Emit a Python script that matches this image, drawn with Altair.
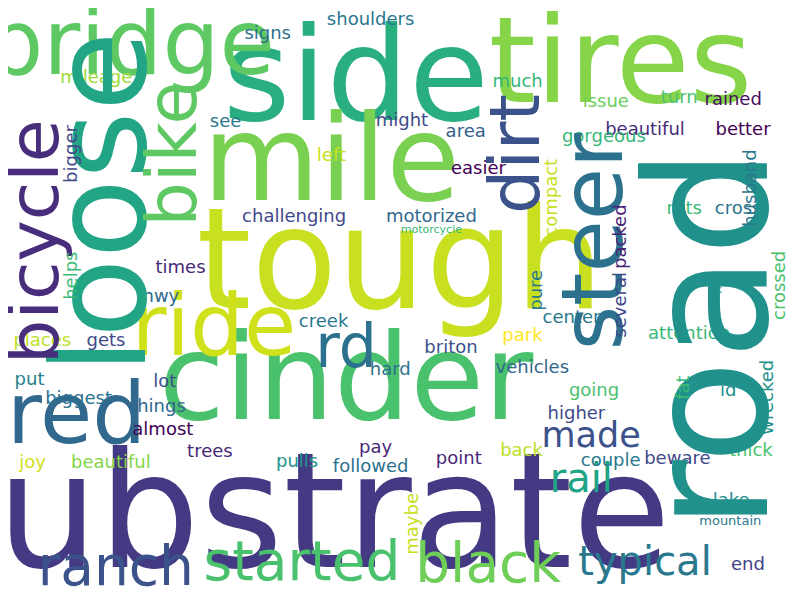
import altair as alt
import pandas as pd

# word cloud: word, centre x, centre y (pixels in an 800x600 canvas), font size, rotated?, colour
words = ["substrate", "road", "cinder", "tough", "loose", "side", "tires", "mile", "bridge",
         "bicycle", "bike", "ride", "red", "rd", "dirt", "steer", "ranch", "started", "black",
         "typical", "rail", "made", "end", "challenging", "motorized", "motorcycle", "signs",
         "shoulders", "much", "beautiful", "better", "mileage", "see", "might", "area", "issue",
         "turn", "rained", "gorgeous", "easier", "left", "bigger", "husband", "compact", "packed",
         "ruts", "cross", "crossed", "helps", "times", "hwy", "creek", "pure", "several", "center",
         "park", "attention", "ok", "places", "gets", "briton", "hard", "vehicles", "put", "lot",
         "biggest", "going", "fat", "id", "wrecked", "things", "almost", "higher", "pay", "trees",
         "pulls", "joy", "beautiful ", "followed", "point", "back", "couple", "beware", "thick",
         "lake", "maybe", "mountain"]
xs = [290, 722, 345, 400, 100, 355, 625, 330, 125, 30, 170, 210, 70, 345, 520, 600, 110, 300, 490,
      650, 585, 595, 755, 292, 432, 432, 265, 370, 520, 650, 750, 90, 222, 402, 467, 610, 685, 740,
      608, 480, 330, 65, 758, 555, 625, 690, 745, 788, 65, 176, 156, 322, 540, 625, 575, 525, 695,
      722, 35, 100, 452, 390, 535, 22, 160, 72, 598, 690, 735, 775, 153, 158, 580, 375, 206, 295,
      25, 105, 370, 460, 524, 615, 683, 758, 738, 413, 737]
ys = [525, 340, 385, 265, 200, 75, 60, 160, 40, 240, 150, 330, 420, 350, 150, 240, 575, 570, 572,
      570, 485, 440, 572, 215, 215, 228, 27, 12, 76, 125, 125, 72, 117, 116, 127, 97, 92, 95, 133,
      165, 152, 150, 185, 195, 235, 207, 207, 285, 275, 267, 297, 323, 290, 305, 318, 337, 335, 290,
      342, 342, 349, 372, 370, 382, 384, 402, 393, 390, 393, 400, 410, 434, 417, 452, 456, 466, 467,
      467, 472, 463, 455, 465, 463, 455, 507, 530, 527]
big_sizes = {"substrate": 160, "road": 170, "cinder": 120, "tough": 140, "loose": 130,
             "side": 130, "tires": 120, "mile": 120, "bridge": 90, "bicycle": 70, "bike": 70,
             "ride": 85, "red": 85, "rd": 60, "dirt": 70, "steer": 85, "ranch": 55,
             "started": 55, "black": 55, "typical": 40, "rail": 40, "made": 35,
             "motorcycle": 11, "ok": 11, "mountain": 13}
rotated = ["road", "loose", "bicycle", "bike", "dirt", "steer", "bigger", "husband", "compact",
           "packed", "crossed", "helps", "pure", "several", "fat", "wrecked", "maybe"]
colors = ["#443983", "#21918c", "#4ac16d", "#c8e020", "#21a585", "#29af7f", "#86d549", "#7ad151",
          "#5ec962", "#472d7b", "#5ec962", "#d0e11c", "#31688e", "#2c728e", "#3b528b", "#2c728e",
          "#3b528b", "#4ac16d", "#6ece58", "#2a788e", "#20a486", "#3b528b", "#414487", "#3e4a89",
          "#31688e", "#3bbb75", "#2c728e", "#2a788e", "#35b779", "#472c7a", "#440154", "#a0da39",
          "#2a788e", "#3e4a89", "#355f8d", "#6ece58", "#4ac16d", "#471063", "#35b779", "#440154",
          "#c8e020", "#3e4a89", "#2a788e", "#c8e020", "#482475", "#3bbb75", "#2c728e", "#4ac16d",
          "#3bbb75", "#482878", "#31688e", "#2a788e", "#2a788e", "#3e4a89", "#2a788e", "#fde725",
          "#35b779", "#21918c", "#bddf26", "#3e4a89", "#3b528b", "#2c728e", "#31688e", "#26828e",
          "#3b528b", "#2c728e", "#4ac16d", "#3bbb75", "#21918c", "#21918c", "#31688e", "#440154",
          "#3e4a89", "#482878", "#482878", "#21918c", "#d0e11c", "#86d549", "#2c728e", "#482878",
          "#bddf26", "#2a788e", "#3e4a89", "#4ac16d", "#21918c", "#c8e020", "#2a788e"]

df = pd.DataFrame({"word": words, "x": xs, "y": ys, "color": colors})
df["size"] = [big_sizes.get(w, 18) for w in words]
df["angle"] = [270 if w in rotated else 0 for w in words]

base = alt.Chart(df).encode(
    x=alt.X("x:Q", scale=alt.Scale(domain=[0, 800]), axis=None),
    y=alt.Y("y:Q", scale=alt.Scale(domain=[600, 0]), axis=None),
    text="word:N",
    size=alt.Size("size:Q", scale=None),
    color=alt.Color("color:N", scale=None),
)

flat = base.transform_filter("datum.angle == 0").mark_text(
    font="DejaVu Sans", baseline="middle", align="center")
vert = base.transform_filter("datum.angle == 270").mark_text(
    font="DejaVu Sans", baseline="middle", align="center", angle=270)

chart = (flat + vert).properties(
    width=784, height=584, padding=0, autosize="none", background="white"
).configure_view(strokeWidth=0)

chart.save("out.html", embed_options={"renderer": "svg", "actions": False})
